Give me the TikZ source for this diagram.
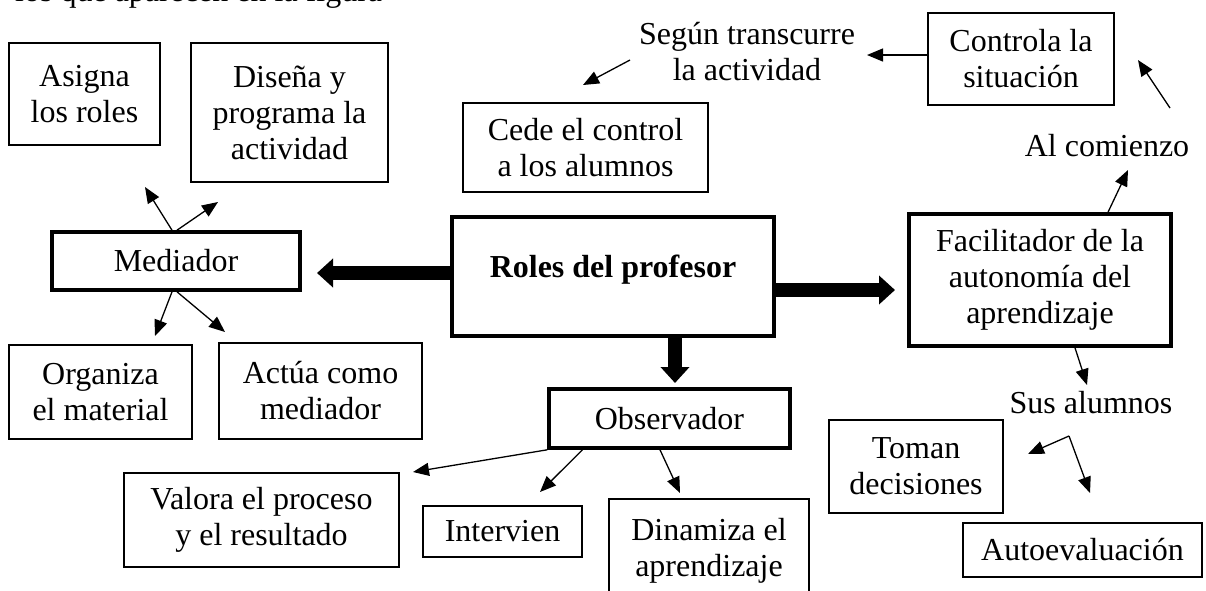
\documentclass[tikz,border=0pt]{standalone}
\usepackage{fontspec}
\setmainfont{Liberation Serif}
\usetikzlibrary{arrows.meta}
\tikzset{
  caja/.style={draw, line width=1.6pt, align=center, inner sep=0pt},
  cajagruesa/.style={caja, line width=3.6pt},
  texto/.style={align=center, inner sep=0pt},
  flecha/.style={line width=1.3pt, -{Triangle[length=16pt,width=13pt]}},
  flechagruesa/.style={line width=14pt, -{Triangle[length=16pt,width=28pt]}},
}
\begin{document}
\begin{tikzpicture}[x=1pt, y=-1pt, font=\fontsize{32}{36}\selectfont]
  \useasboundingbox (0,0) rectangle (1206,590);
  %%%%% TEXTO CORTADO ARRIBA %%%%%
  \node[inner sep=0pt, anchor=base west] (cabecera) at (15,1) {los que aparecen en la figura};

  %%%%% CAJAS %%%%%
  \node[caja, minimum width=151pt, minimum height=102pt] (asigna) at (84.5,94) {Asigna\\los roles};
  \node[caja, minimum width=197pt, minimum height=139pt] (disena) at (289.5,112.5) {Diseña y\\programa la\\actividad};
  \node[caja, minimum width=245pt, minimum height=89pt] (cede) at (585.5,147.5) {Cede el control\\a los alumnos};
  \node[texto] (segun) at (747,52) {Según transcurre\\la actividad};
  \node[caja, minimum width=186pt, minimum height=92pt] (controla) at (1021,59) {Controla la\\situación};
  \node[texto] (comienzo) at (1107,146) {Al comienzo};

  \node[cajagruesa, minimum width=248pt, minimum height=58pt] (mediador) at (176,261) {Mediador};
  \node[cajagruesa, line width=4.2pt, minimum width=322pt, text height=60pt, text depth=59pt,
        font=\fontsize{32}{36}\selectfont\bfseries] (roles) at (613,276.5) {Roles del profesor};
  \node[cajagruesa, minimum width=262pt, minimum height=132pt] (facilitador) at (1040,280) {Facilitador de la\\autonomía del\\aprendizaje};

  \node[caja, minimum width=183pt, minimum height=94pt] (organiza) at (100.5,392) {Organiza\\el material};
  \node[caja, minimum width=203pt, minimum height=96pt] (actua) at (320.5,391) {Actúa como\\mediador};
  \node[cajagruesa, minimum width=241pt, minimum height=59pt] (observador) at (669.5,418.5) {Observador};

  \node[caja, minimum width=275pt, minimum height=94pt] (valora) at (261.5,520) {Valora el proceso\\y el resultado};
  \node[caja, minimum width=159pt, minimum height=51pt] (intervien) at (502.5,531.5) {Intervien};
  \node[caja, minimum width=200pt, minimum height=104pt] (dinamiza) at (709,551) {Dinamiza el\\aprendizaje};

  \node[texto] (sus) at (1091,403) {Sus alumnos};
  \node[caja, minimum width=174pt, minimum height=93pt] (toman) at (916,466.5) {Toman\\decisiones};
  \node[caja, minimum width=239pt, minimum height=54pt] (autoeval) at (1082.5,550) {Autoevaluación};

  %%%%% PUNTAS LIBRES %%%%%
  \coordinate (m1) at (145,187);
  \coordinate (m2) at (218,202);
  \coordinate (m3) at (155,336);
  \coordinate (m4) at (225,332);
  \coordinate (c1) at (867,55);
  \coordinate (s0) at (630,60);
  \coordinate (s1) at (583,85);
  \coordinate (f1) at (1128,170);
  \coordinate (a0) at (1170,108);
  \coordinate (a1) at (1138,60);
  \coordinate (f2) at (1087,385);
  \coordinate (v) at (1069,436);
  \coordinate (v1) at (1028,454);
  \coordinate (v2) at (1090,493);
  \coordinate (o1) at (413,472);
  \coordinate (o2) at (540,492);
  \coordinate (o3) at (680,493);
  \coordinate (g1) at (317,273);
  \coordinate (g2) at (895,290);
  \coordinate (g3) at (675,383);

  %%%%% FLECHAS GRUESAS %%%%%
  \draw[flechagruesa] ([yshift=3.5pt]roles.west) -- (g1);
  \draw[flechagruesa] ([yshift=-13.5pt]roles.east) -- (g2);
  \draw[flechagruesa] ([xshift=62pt]roles.south) -- (g3);

  %%%%% FLECHAS FINAS %%%%%
  \draw[flecha] ([xshift=-4pt]mediador.north) -- (m1);
  \draw[flecha] ([xshift=1pt]mediador.north) -- (m2);
  \draw[flecha] ([xshift=-4pt]mediador.south) -- (m3);
  \draw[flecha] ([xshift=1pt]mediador.south) -- (m4);
  \draw[flecha] ([yshift=4pt]controla.west) -- (c1);
  \draw[flecha] (s0) -- (s1);
  \draw[flecha] ([xshift=68pt]facilitador.north) -- (f1);
  \draw[flecha] (a0) -- (a1);
  \draw[flecha] ([xshift=35pt]facilitador.south) -- (f2);
  \draw[flecha] (v) -- (v1);
  \draw[flecha] (v) -- (v2);
  \draw[flecha] (observador.south west) -- (o1);
  \draw[flecha] ([xshift=-87pt]observador.south) -- (o2);
  \draw[flecha] ([xshift=-9.5pt]observador.south) -- (o3);
\end{tikzpicture}
\end{document}
